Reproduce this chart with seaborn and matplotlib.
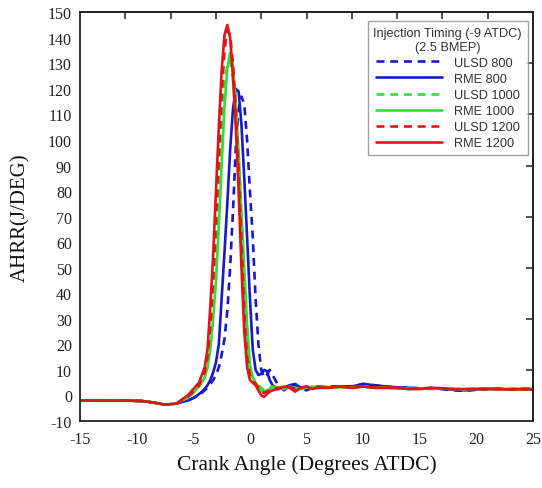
import matplotlib
matplotlib.use("Agg")
import matplotlib.pyplot as plt
import seaborn as sns
import pandas as pd

crank_angle = [-15, -13, -11, -9.5, -8.5, -7.5, -6.5, -6, -5.5, -5, -4.5, -4, -3.75, -3.5, -3.25, -3,
               -2.75, -2.5, -2.25, -2, -1.75, -1.5, -1.25, -1, -0.75, -0.5, -0.25, 0, 0.25, 0.5, 0.75,
               1, 1.25, 1.5, 1.75, 2, 2.5, 3, 3.5, 4, 4.5, 5, 5.5, 6, 7, 8, 9, 10, 11, 12, 13, 14, 15,
               16, 17, 18, 19, 20, 21, 22, 23, 24, 25]

ulsd_800 = [-2, -2, -2, -2.2, -2.8, -3.6, -3.2, -2.5, -2, -1, 0, 2, 3, 4.5, 6, 8,
            11, 16, 22, 33, 50, 72, 97, 112, 117, 114, 100, 80, 62, 38, 20,
            10, 7, 8, 10, 8, 4, 2, 3.5, 4, 2.5, 2, 3, 3, 3.5, 3.5, 3.5, 4.5, 4, 3.5, 3, 3, 2.8,
            2.6, 2.5, 2, 1.8, 2.2, 2.5, 2.5, 2.5, 2.6, 2.6]
rme_800 = [-2, -2, -2, -2.2, -2.8, -3.6, -3.2, -2.5, -2, -1, 0.5, 2.5, 4, 6, 9, 13,
           20, 38, 56, 75, 96, 112, 120, 119, 106, 85, 62, 38, 18, 10, 8,
           8.5, 10, 9.5, 6, 4, 2.5, 3, 4, 4.5, 3, 2.5, 3, 3.5, 3.2, 3.5, 3.5, 4.5, 4, 3.5, 3.2, 3, 2.8,
           2.8, 2.6, 2.2, 2, 2.4, 2.6, 2.6, 2.4, 2.5, 2.5]
ulsd_1000 = [-2, -2, -2, -2.2, -2.8, -3.6, -3.2, -1.8, -0.5, 1.5, 4, 8, 13, 22, 37, 55,
             78, 102, 121, 130, 131, 124, 110, 90, 66, 42, 22, 10, 7, 5, 4,
             3, 2, 2, 3, 3.5, 3, 2.5, 3.5, 3, 2.5, 3, 3.5, 3, 3, 3.3, 3.2, 3.5, 3, 3, 2.8, 2.6, 2.7,
             2.8, 2.8, 2.5, 2.4, 2.6, 2.6, 2.5, 2.4, 2.5, 2.4]
rme_1000 = [-2, -2, -2, -2.2, -2.8, -3.6, -3.2, -2, -1, 1, 3.5, 7, 11, 18, 30, 45,
            66, 90, 113, 128, 134, 129, 115, 95, 72, 50, 28, 12, 7, 5, 3.5,
            2, 1.5, 2, 2.5, 3, 3, 2.5, 3.5, 3, 2.5, 3, 3, 3, 3, 3.3, 3, 3.5, 3, 3, 2.8, 2.6, 2.6,
            2.8, 2.8, 2.4, 2.4, 2.6, 2.6, 2.5, 2.3, 2.4, 2.4]
ulsd_1200 = [-2, -2, -2, -2.2, -2.8, -3.6, -3.2, -2, -0.5, 1.5, 4, 9, 15, 27, 45, 68,
             93, 117, 135, 143, 141, 130, 112, 88, 60, 33, 15, 8, 6, 4.5, 3,
             1.5, 1, 1.5, 2, 2.5, 3, 3, 3.5, 2.5, 3, 3.5, 3, 3, 3.2, 3.5, 3, 3.5, 3, 3, 3, 2.8, 2.7,
             3, 2.8, 2.5, 2.5, 2.6, 2.6, 2.5, 2.5, 2.5, 2.4]
rme_1200 = [-2, -2, -2, -2.2, -2.8, -3.6, -3.2, -1.5, 0, 2.5, 5, 11, 18, 35, 55, 80,
            105, 127, 141, 145, 140, 125, 105, 80, 50, 25, 11, 6, 5, 4, 2,
            0, -0.5, 0.5, 1.5, 2, 2.5, 3.5, 3, 1.5, 3, 3.5, 2.5, 3, 3, 3.5, 3, 3.5, 3, 3, 3, 2.5, 2.5,
            3, 2.8, 2.5, 2.5, 2.5, 2.5, 2.5, 2.3, 2.5, 2.3]

series_names = ["ULSD 800", "RME 800", "ULSD 1000", "RME 1000", "ULSD 1200", "RME 1200"]
series_values = [ulsd_800, rme_800, ulsd_1000, rme_1000, ulsd_1200, rme_1200]
series_colors = ["#1818cc", "#1818cc", "#33dd33", "#33dd33", "#e01515", "#e01515"]
series_dashed = [True, False, True, False, True, False]

x_ticks = [-15, -10, -5, 0, 5, 10, 15, 20, 25]
y_ticks = list(range(-10, 151, 10))
top_ticks = [-11, -7, -3, 1, 5, 9, 13, 17, 21]
right_ticks = [10, 30, 50, 70, 90, 110, 130]

sns.set_theme(style="white")
plt.rcParams['font.family'] = ['Liberation Serif', 'DejaVu Serif']

fig = plt.figure(figsize=(5.42, 4.89), dpi=100)
ax = fig.add_axes([0.148, 0.137, 0.835, 0.836])

for name, vals, col, dashed in zip(series_names, series_values, series_colors, series_dashed):
    df = pd.DataFrame({"x": crank_angle, "y": vals})
    sns.lineplot(data=df, x="x", y="y", ax=ax, color=col, linewidth=1.9,
                 linestyle=(0, (3.0, 2.2)) if dashed else "-", label=name,
                 sort=False, estimator=None)

ax.set_xlim(-15, 25)
ax.set_ylim(-10, 150)
ax.set_xticks(x_ticks)
ax.set_yticks(y_ticks)
ax.set_xticklabels([str(t) for t in x_ticks])
ax.set_yticklabels([str(t) for t in y_ticks])
ax.tick_params(axis="both", direction="in", length=5, width=1.1, labelsize=11.5,
               colors="#222222")
ax.tick_params(axis="x", pad=7)
ax.tick_params(axis="y", pad=6)
for sp in ax.spines.values():
    sp.set_visible(True)
    sp.set_color("#222222")
    sp.set_linewidth(1.3)

top = ax.secondary_xaxis("top")
top.set_xticks(top_ticks)
top.set_xticklabels([])
top.tick_params(direction="in", length=5, width=1.1, colors="#222222")
right = ax.secondary_yaxis("right")
right.set_yticks(right_ticks)
right.set_yticklabels([])
right.tick_params(direction="in", length=5, width=1.1, colors="#222222")

ax.set_xlabel("Crank Angle (Degrees ATDC)", fontsize=15.5, labelpad=5.5, color="#111111")
ax.set_ylabel("AHRR(J/DEG)", fontsize=15, labelpad=13, color="#111111")

leg = ax.legend(title="Injection Timing (-9 ATDC)\n(2.5 BMEP)", loc="upper right",
                bbox_to_anchor=(0.989, 0.978), frameon=True, fancybox=False,
                handlelength=5.2, handletextpad=0.9, labelspacing=0.32, borderpad=0.45,
                borderaxespad=0.0,
                prop={"family": ["Liberation Sans"], "size": 9.2},
                title_fontproperties={"family": ["Liberation Sans"], "size": 9.2})
leg.get_title().set_multialignment("center")
leg.get_title().set_color("#333333")
for t in leg.get_texts():
    t.set_color("#333333")
leg.get_frame().set_edgecolor("#888888")
leg.get_frame().set_linewidth(1.0)

fig.savefig("out.png", dpi=100)
